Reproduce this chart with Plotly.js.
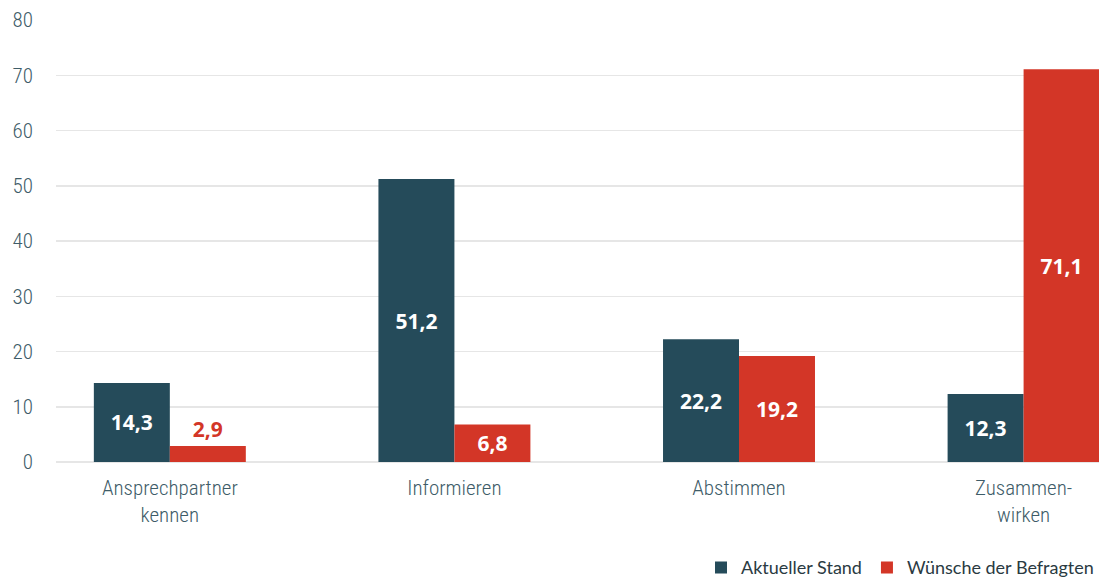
<!DOCTYPE html>
<html>
<head>
<meta charset="utf-8">
<script src="https://cdn.plot.ly/plotly-3.0.1.min.js"></script>
<style>html,body{margin:0;padding:0;background:#fff;}#chart{width:1099px;height:587px;}</style>
</head>
<body>
<div id="chart"></div>
<script>
const categories = ["Ansprechpartner<br>kennen", "Informieren", "Abstimmen", "Zusammen-<br>wirken"];
const aktuellerStand = [14.3, 51.2, 22.2, 12.3];
const wuensche = [2.9, 6.8, 19.2, 71.1];
const seriesNames = ["Aktueller Stand", "Wünsche der Befragten"];
const yTicks = [0, 10, 20, 30, 40, 50, 60, 70, 80];

const dark = "#254b5a";
const red = "#d33627";
const axisText = "#3e5c68";
const labelFont = "Open Sans, DejaVu Sans, sans-serif";
const condFont = "Roboto Condensed, Liberation Sans Narrow, DejaVu Sans Condensed, Roboto, sans-serif";

const traces = [
  {
    type: "bar", name: seriesNames[0], x: categories, y: aktuellerStand,
    marker: {color: dark},
    texttemplate: "%{y:.1f}", textposition: "inside", insidetextanchor: "middle",
    textfont: {family: labelFont, size: 21, color: "#ffffff", weight: 700},
    cliponaxis: false, hoverinfo: "skip"
  },
  {
    type: "bar", name: seriesNames[1], x: categories, y: wuensche,
    marker: {color: red},
    texttemplate: "%{y:.1f}", textposition: "auto", insidetextanchor: "middle",
    insidetextfont: {family: labelFont, size: 21, color: "#ffffff", weight: 700},
    outsidetextfont: {family: labelFont, size: 21, color: red, weight: 700},
    textfont: {family: labelFont, size: 21, weight: 700},
    constraintext: "none",
    cliponaxis: false, hoverinfo: "skip"
  }
];

const layout = {
  width: 1099, height: 587,
  margin: {l: 56, r: 0, t: 20, b: 125},
  paper_bgcolor: "#ffffff", plot_bgcolor: "#ffffff",
  separators: ",.",
  barmode: "group", bargap: 0.466, bargroupgap: 0,
  showlegend: true,
  legend: {
    orientation: "h", x: 1, xanchor: "right", y: -0.281, yanchor: "bottom",
    font: {family: "Lato, Open Sans, sans-serif", size: 18, color: "#2a3a42"},
    itemsizing: "constant", traceorder: "normal", bgcolor: "rgba(0,0,0,0)",
    tracegroupgap: 0
  },
  xaxis: {
    type: "category", range: [-0.4, 3.265],
    showgrid: false, zeroline: false, showline: false, ticks: "",
    tickfont: {family: condFont, size: 21, color: axisText, weight: 300},
    ticklabelstandoff: 11
  },
  yaxis: {
    range: [0, 80], tickvals: yTicks, ticktext: yTicks.map(String),
    showgrid: true, gridcolor: "#e6e6e6", gridwidth: 1.5,
    zeroline: true, zerolinecolor: "#e6e6e6", zerolinewidth: 1.5,
    showline: false, ticks: "",
    tickfont: {family: condFont, size: 21, color: axisText, weight: 300},
    ticklabelstandoff: 22
  }
};

Plotly.newPlot("chart", traces, layout, {staticPlot: true, displayModeBar: false});
</script>
</body>
</html>
